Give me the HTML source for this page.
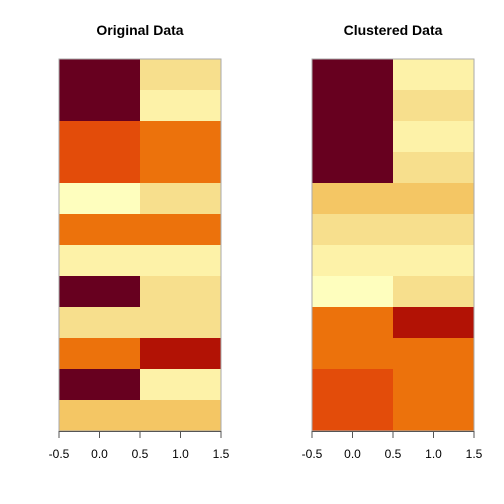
<!DOCTYPE html>
<html><head><meta charset="utf-8"><style>
body{margin:0;background:#fff;}
svg{display:block;font-family:"Liberation Sans",Arial,sans-serif;}
</style></head><body>
<svg id="c" width="504" height="504"></svg>
<script>
const palette=["#67001f","#b21205","#e34c0a","#ec720c","#f4c664","#f7df8d","#fdf2a8","#fefebe"];
const xTicks=[-0.5,0,0.5,1,1.5];
const tickLabels=["-0.5","0.0","0.5","1.0","1.5"];
const originalCol0=[0,0,2,2,7,3,6,0,5,3,0,4];
const originalCol1=[5,6,3,3,5,3,6,5,5,1,6,4];
const clusteredCol0=[0,0,0,0,4,5,6,7,3,3,2,2];
const clusteredCol1=[6,5,6,5,4,5,6,5,1,3,3,3];
const titles=["Original Data","Clustered Data"];
const NS="http://www.w3.org/2000/svg";
const svg=document.getElementById("c");
function mk(t,a){const e=document.createElementNS(NS,t);for(const k in a)e.setAttribute(k,a[k]);svg.appendChild(e);return e;}
const panels=[{x0:59,cols:[originalCol0,originalCol1]},{x0:312,cols:[clusteredCol0,clusteredCol1]}];
const y0=59,y1=431,w=162;
panels.forEach((p,pi)=>{
  const xs=v=>p.x0+(v+0.5)/2*w;
  const n=p.cols[0].length, rh=(y1-y0)/n;
  p.cols.forEach((col,ci)=>{
    col.forEach((v,ri)=>{
      const r=mk("rect",{x:xs(ci-0.5),y:y0+ri*rh,width:xs(ci+0.5)-xs(ci-0.5)+0.3,height:rh+0.3,fill:palette[v]});
      
      
    });
  });
  const b=mk("rect",{x:p.x0,y:y0,width:w,height:y1-y0,fill:"none",stroke:"#aaa","stroke-width":1});
  
  
  const ax=mk("line",{x1:xs(xTicks[0]),x2:xs(xTicks[xTicks.length-1]),y1:y1+0.5,y2:y1+0.5,stroke:"#555"});
  
  
  xTicks.forEach((t,i)=>{
    const tk=mk("line",{x1:xs(t),x2:xs(t),y1:y1,y2:y1+7,stroke:"#555"});
    
    
    const tl=mk("text",{x:xs(t),y:458,"text-anchor":"middle","font-size":12,fill:"#000"});
    tl.textContent=tickLabels[i];
    
    
  });
  const tt=mk("text",{x:p.x0+w/2,y:35,"text-anchor":"middle","font-size":14,"font-weight":"bold"});
  tt.textContent=titles[pi];
  
  
});
</script>
</body></html>
